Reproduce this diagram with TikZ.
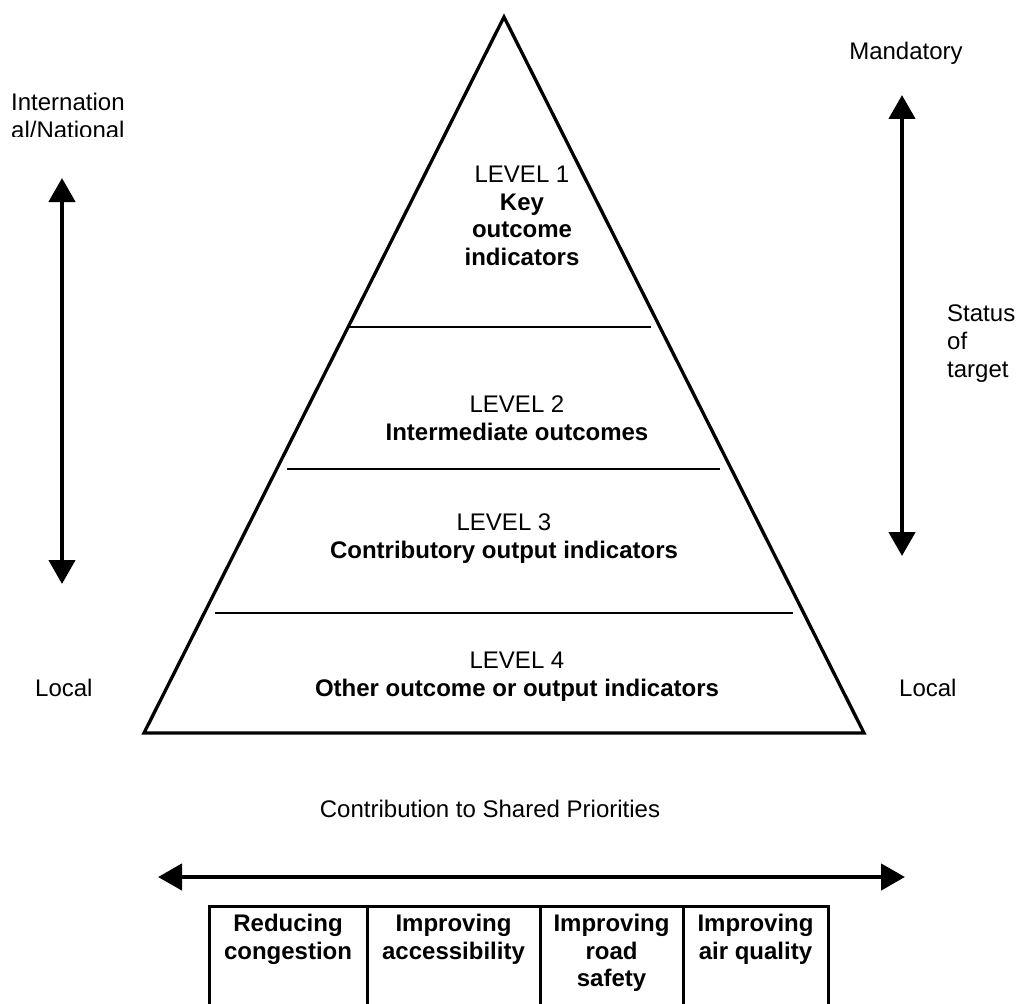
\documentclass[tikz,border=0pt]{standalone}
\usepackage{fontspec}
\setmainfont{Liberation Sans}
\usetikzlibrary{arrows.meta}

\begin{document}
\begin{tikzpicture}[x=1pt,y=-1pt,
    txt/.style={inner sep=0pt, font=\fontsize{24}{27.6}\selectfont},
    level/.style={txt, align=center, anchor=north},
    cell/.style={txt, align=center, anchor=north, font=\fontsize{24}{27.6}\selectfont\bfseries},
    bigarrow/.style={line width=4.5pt, {Triangle[width=26pt,length=24pt]}-{Triangle[width=26pt,length=24pt]}}]
\useasboundingbox (0,0) rectangle (1019,1003);
\clip (0,0) rectangle (1019,1003);

% pyramid
\coordinate (apex) at (504,17);
\coordinate (baseL) at (144,733);
\coordinate (baseR) at (864,733);
\draw[line width=3.3pt] (apex) -- (baseR) -- (baseL) -- cycle;
\draw[line width=2pt] (349,327) -- (651,327);
\draw[line width=2pt] (287,469) -- (720,469);
\draw[line width=2pt] (215,613) -- (793,613);

\node[level] (lvlone) at (522,166) {LEVEL 1\\\textbf{Key}\\\textbf{outcome}\\\textbf{indicators}};
\node[level] (lvltwo) at (517,396) {LEVEL 2\\\textbf{Intermediate outcomes}};
\node[level] (lvlthree) at (504,514) {LEVEL 3\\\textbf{Contributory output indicators}};
\node[level] (lvlfour) at (517,652) {LEVEL 4\\\textbf{Other outcome or output indicators}};

% left scale
\begin{scope}
    \clip (0,80) rectangle (200,136.5);
    \node[txt, align=left, anchor=north west] (intl) at (11,93) {Internation\\al/National};
\end{scope}
\node[txt, anchor=base west] (localL) at (35,696) {Local};
\coordinate (ltop) at (62,178);
\coordinate (lbot) at (62,584);
\draw[bigarrow] (ltop) -- (lbot);

% right scale
\node[txt, anchor=base] (mand) at (906,60) {Mandatory};
\node[txt, align=left, anchor=north west] (status) at (947,305) {Status\\of\\target};
\node[txt, anchor=base west] (localR) at (899,696) {Local};
\coordinate (rtop) at (902,95);
\coordinate (rbot) at (902,556);
\draw[bigarrow] (rtop) -- (rbot);

% shared priorities
\node[txt, anchor=base] (contrib) at (490,817) {Contribution to Shared Priorities};
\coordinate (hleft) at (158,877);
\coordinate (hright) at (905,877);
\draw[bigarrow] (hleft) -- (hright);

\draw[line width=3pt] (209,1010) -- (209,906) -- (828,906) -- (828,1010);
\draw[line width=3pt] (367,906) -- (367,1010);
\draw[line width=3pt] (540,906) -- (540,1010);
\draw[line width=3pt] (683,906) -- (683,1010);

\node[cell] (congestion) at (288,914) {Reducing\\congestion};
\node[cell] (access) at (453.5,914) {Improving\\accessibility};
\node[cell] (safety) at (611.5,914) {Improving\\road\\safety};
\node[cell] (air) at (755.5,914) {Improving\\air quality};
\end{tikzpicture}
\end{document}
